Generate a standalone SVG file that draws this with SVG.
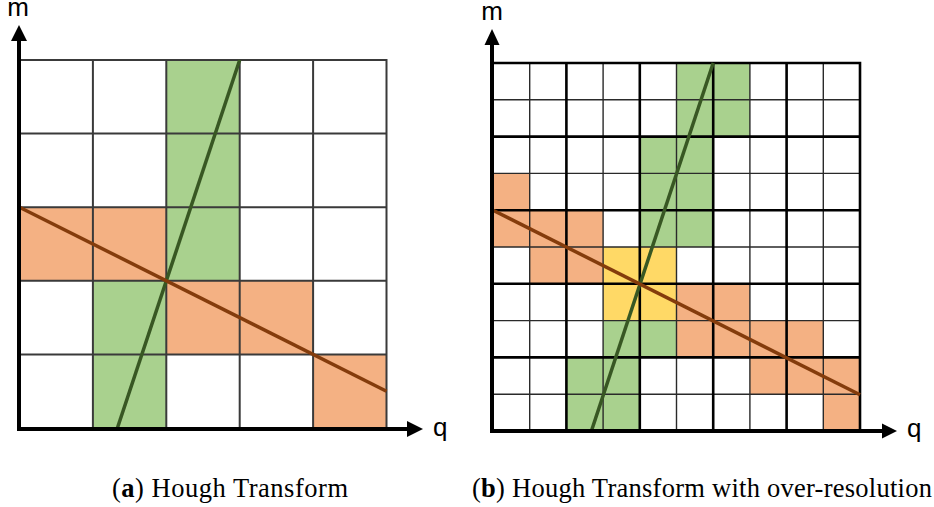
<svg xmlns="http://www.w3.org/2000/svg" width="934" height="507" viewBox="0 0 934 507">
<style>
.g{fill:#A9D18E}
.o{fill:#F4B183}
.y{fill:#FFD966}
.grid{fill:none;stroke:#3a3a3a;stroke-width:2}
.thin{fill:none;stroke:#2a2a2a;stroke-width:1.4}
.thick{fill:none;stroke:#000;stroke-width:2.6}
.gl{stroke:#385723;stroke-width:3.5;stroke-linecap:butt;fill:none}
.ol{stroke:#843C0C;stroke-width:3.5;stroke-linecap:butt;fill:none}
.axis{stroke:#000;stroke-width:4;fill:none}
.head{fill:#000}
.lab{font-family:"Liberation Sans",Arial,sans-serif;font-size:26px;fill:#000}
.cap{font-family:"Liberation Serif","Times New Roman",serif;font-size:26.5px;fill:#000}
</style>
<g id="panel-a">
  <g id="a-cells">
    <rect class="g" x="166.3" y="60" width="73.4" height="220.8"/>
    <rect class="g" x="92.9" y="280.8" width="73.4" height="147.2"/>
    <rect class="o" x="19.5" y="207.2" width="146.8" height="73.6"/>
    <rect class="o" x="166.3" y="280.8" width="146.8" height="73.6"/>
    <rect class="o" x="313.1" y="354.4" width="73.4" height="73.6"/>
  </g>
  <g id="a-grid">
    <path class="grid" d="M19.5 60H386.5V428M19.5 133.6H386.5M19.5 207.2H386.5M19.5 280.8H386.5M19.5 354.4H386.5M92.9 60V428M166.3 60V428M239.7 60V428M313.1 60V428"/>
  </g>
  <g id="a-lines">
    <line class="gl" x1="239.7" y1="60" x2="117.4" y2="428"/>
    <line class="ol" x1="19.5" y1="207.2" x2="386.5" y2="391.2"/>
  </g>
  <g id="a-axes">
    <path class="axis" d="M19 431V40M17 429H408"/>
    <polygon class="head" points="19,25 11,41 27,41"/>
    <polygon class="head" points="423,429 407,421 407,437"/>
    <text class="lab" x="18" y="16" text-anchor="middle">m</text>
    <text class="lab" x="433" y="436">q</text>
  </g>
  <text class="cap" x="112" y="497" textLength="236" lengthAdjust="spacing">(<tspan font-weight="bold">a</tspan>) Hough Transform</text>
</g>
<g id="panel-b">
  <g id="b-cells">
    <rect class="g" x="676.5" y="63" width="73.4" height="73.6"/>
    <rect class="g" x="639.8" y="136.6" width="73.4" height="110.4"/>
    <rect class="g" x="603.1" y="320.6" width="73.4" height="36.8"/>
    <rect class="g" x="566.4" y="357.4" width="73.4" height="73.6"/>
    <rect class="y" x="603.1" y="247" width="73.4" height="73.6"/>
    <rect class="o" x="493" y="173.4" width="36.7" height="36.8"/>
    <rect class="o" x="493" y="210.2" width="110.1" height="36.8"/>
    <rect class="o" x="529.7" y="247" width="73.4" height="36.8"/>
    <rect class="o" x="676.5" y="283.8" width="73.4" height="36.8"/>
    <rect class="o" x="676.5" y="320.6" width="146.8" height="36.8"/>
    <rect class="o" x="749.9" y="357.4" width="110.1" height="36.8"/>
    <rect class="o" x="823.3" y="394.2" width="36.7" height="36.8"/>
  </g>
  <g id="b-grid">
    <path class="thin" d="M493 99.8H860M493 173.4H860M493 247H860M493 320.6H860M493 394.2H860M529.7 63V431M603.1 63V431M676.5 63V431M749.9 63V431M823.3 63V431"/>
    <path class="thick" d="M493 63H860V431M493 136.6H860M493 210.2H860M493 283.8H860M493 357.4H860M566.4 63V431M639.8 63V431M713.2 63V431M786.6 63V431"/>
  </g>
  <g id="b-lines">
    <line class="gl" x1="713.2" y1="63" x2="591.4" y2="431"/>
    <line class="ol" x1="493" y1="210.2" x2="860" y2="394.7"/>
  </g>
  <g id="b-axes">
    <path class="axis" d="M492 433V44M490 431H882"/>
    <polygon class="head" points="492,29 484.5,45 499.5,45"/>
    <polygon class="head" points="897,431 882,423.5 882,438.5"/>
    <text class="lab" x="492" y="20" text-anchor="middle">m</text>
    <text class="lab" x="907" y="437">q</text>
  </g>
  <text class="cap" x="472" y="497" textLength="460" lengthAdjust="spacing">(<tspan font-weight="bold">b</tspan>) Hough Transform with over-resolution</text>
</g>
</svg>
